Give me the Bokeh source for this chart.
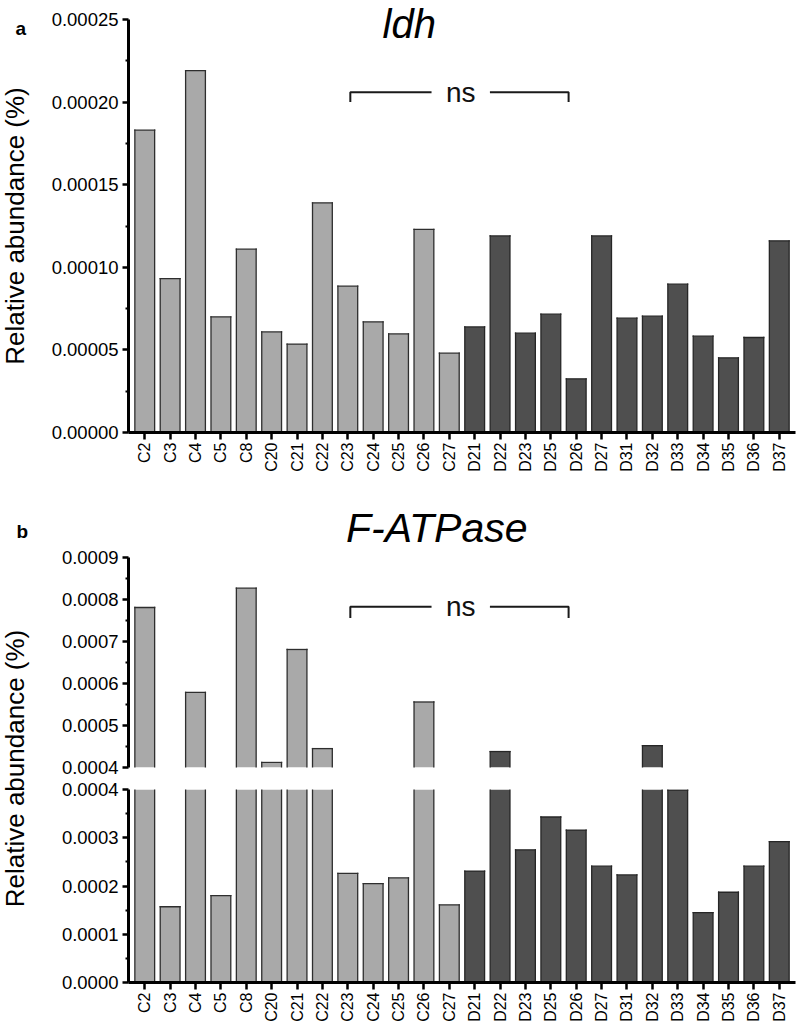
import math
from bokeh.plotting import figure
from bokeh.layouts import row, column
from bokeh.models import (FactorRange, Range1d, FixedTicker, NumeralTickFormatter,
                          ColumnDataSource, Label, CDSView, BooleanFilter)
from bokeh.transform import factor_cmap, dodge
from bokeh.embed import file_html
from bokeh.resources import INLINE

# ---------------- data ----------------
samples = ["C2", "C3", "C4", "C5", "C8", "C20", "C21", "C22", "C23", "C24", "C25", "C26", "C27",
           "D21", "D22", "D23", "D25", "D26", "D27", "D31", "D32", "D33", "D34", "D35", "D36", "D37"]
groups = ["C"] * 13 + ["D"] * 13

ldh = [0.000183, 0.0000932, 0.000219, 0.0000700, 0.000111, 0.0000609, 0.0000535,
       0.000139, 0.0000886, 0.0000670, 0.0000597, 0.000123, 0.0000480,
       0.0000639, 0.000119, 0.0000601, 0.0000716, 0.0000325, 0.000119, 0.0000692,
       0.0000704, 0.0000898, 0.0000583, 0.0000452, 0.0000575, 0.000116]

fatpase = [0.000781, 0.000157, 0.000579, 0.000180, 0.000827, 0.000412, 0.000681,
           0.000445, 0.000226, 0.000205, 0.000217, 0.000556, 0.000161,
           0.000231, 0.000438, 0.000275, 0.000343, 0.000316, 0.000241, 0.000223,
           0.000452, 0.000399, 0.000145, 0.000187, 0.000241, 0.000292]

ldh_ticks = [0.0, 0.00005, 0.00010, 0.00015, 0.00020, 0.00025]
fat_upper_ticks = [0.0004, 0.0005, 0.0006, 0.0007, 0.0008, 0.0009]
fat_lower_ticks = [0.0, 0.0001, 0.0002, 0.0003, 0.0004]

y_label = "Relative abundance (%)"
ldh_title = "ldh"
fat_title = "F-ATPase"
ns_text = "ns"

# ---------------- style ----------------
FONT = "Liberation Sans"
LIGHT, DARK = "#a9a9a9", "#4f4f4f"
LIGHT_LINE, DARK_LINE = "#2e2e2e", "#262626"
BAR_W = 0.78
OUT_W = 1.3

src = ColumnDataSource(dict(sample=samples, group=groups, ldh=ldh, fat=fatpase))
fill_map = factor_cmap("group", palette=[LIGHT, DARK], factors=["C", "D"])
line_map = factor_cmap("group", palette=[LIGHT_LINE, DARK_LINE], factors=["C", "D"])

x_range = FactorRange(*samples, range_padding=0.14, range_padding_units="absolute")


def midpoints(t):
    return [(a + b) / 2 for a, b in zip(t[:-1], t[1:])]


def make_fig(height, lo, hi, px_per_unit, ticks, fmt, border_top, border_bottom, show_x):
    frame_h = height - border_top - border_bottom
    # the frame may extend above the axis top (room for titles); the axis is bounded
    y_end = lo + frame_h / px_per_unit
    p = figure(width=766, height=height, x_range=x_range, y_range=Range1d(lo, y_end),
               output_backend="svg", toolbar_location=None,
               min_border_left=98, min_border_right=1,
               min_border_top=border_top, min_border_bottom=border_bottom,
               x_axis_location="below" if show_x else None)
    p.outline_line_color = None
    p.xgrid.visible = False
    p.ygrid.visible = False
    ya = p.yaxis[0]
    ya.bounds = (lo, hi)
    ya.ticker = FixedTicker(ticks=ticks, minor_ticks=midpoints(ticks))
    ya.formatter = NumeralTickFormatter(format=fmt)
    ya.axis_line_width = 3
    ya.axis_line_color = "black"
    ya.major_tick_line_width = 2.5
    ya.major_tick_out = 6
    ya.major_tick_in = 0
    ya.minor_tick_line_width = 2
    ya.minor_tick_out = 3
    ya.minor_tick_in = 0
    ya.major_label_text_font = FONT
    ya.major_label_text_font_size = "18.5px"
    ya.major_label_text_color = "black"
    ya.major_label_standoff = 4
    if show_x:
        xa = p.xaxis[0]
        xa.axis_line_width = 3
        xa.axis_line_color = "black"
        xa.major_tick_line_width = 2.5
        xa.major_tick_out = 7
        xa.major_tick_in = 0
        xa.major_label_orientation = math.pi / 2
        xa.major_label_text_font = FONT
        xa.major_label_text_font_size = "16px"
        xa.major_label_text_color = "black"
        xa.major_label_standoff = 3
    return p


def bars(p, col, lo, hi):
    vals = src.data[col]
    shown = CDSView(filter=BooleanFilter([v > lo for v in vals]))
    top_view = CDSView(filter=BooleanFilter([lo < v <= hi for v in vals]))
    # fills (no outline, so nothing shows at the cut edges of the broken axis)
    p.vbar(x="sample", top=col, bottom=0, width=BAR_W, source=src, view=shown,
           fill_color=fill_map, line_color=None)
    for off in (-BAR_W / 2, BAR_W / 2):
        xo = dodge("sample", off, range=x_range)
        p.segment(x0=xo, y0=0, x1=xo, y1=col, source=src, view=shown,
                  line_color=line_map, line_width=OUT_W, line_cap="square")
    p.segment(x0=dodge("sample", -BAR_W / 2, range=x_range), y0=col,
              x1=dodge("sample", BAR_W / 2, range=x_range), y1=col,
              source=src, view=top_view, line_color=line_map, line_width=OUT_W,
              line_cap="square")


def bracket(p, y_line, y_end):
    left, gap_l, gap_r, right, mid = 8.6, 11.8, 14.1, 17.2, 12.95
    p.multi_line(xs=[[left, left, gap_l], [gap_r, right, right]],
                 ys=[[y_end, y_line, y_line], [y_line, y_line, y_end]],
                 line_color="#1a1a1a", line_width=2)
    p.add_layout(Label(x=mid, y=y_line, text=ns_text, text_align="center",
                       text_baseline="middle", text_font=FONT,
                       text_font_size="28px", text_color="#111111"))


# panel a : axis 0..0.00025 spans y 19..432 (413 px)
pa = make_fig(478, 0.0, 0.00025, 413 / 0.00025, ldh_ticks, "0.00000", 0, 46, True)
bars(pa, "ldh", 0.0, 0.00025)
bracket(pa, 0.000206, 0.0002)
pa.add_layout(Label(x=9.87, y=0.0002474, text=ldh_title, text_font=FONT,
                    text_font_size="40px", text_font_style="italic", text_color="black",
                    text_align="left", text_baseline="middle"))

# panel b, broken axis: upper part (0.0004..0.0009 over y 557..767) and lower part (789..982)
pbu = make_fig(300, 0.0004, 0.0009, 210 / 0.0005, fat_upper_ticks, "0.0000", 22, 11, False)
bars(pbu, "fat", 0.0004, 0.0009)
bracket(pbu, 0.000783, 0.000756)
pbu.add_layout(Label(x=8.43, y=0.00097, text=fat_title, text_font=FONT,
                     text_font_size="41px", text_font_style="italic", text_color="black",
                     text_align="left", text_baseline="middle"))

pbl = make_fig(249, 0.0, 0.0004, 193 / 0.0004, fat_lower_ticks, "0.0000", 11, 45, True)
bars(pbl, "fat", 0.0, 0.0004)

# left strip: panel letters and the y-axis titles (panel b's spans both parts)
H = 478 + 300 + 249
strip = figure(width=30, height=H, x_range=Range1d(0, 30), y_range=Range1d(H, 0),
               output_backend="svg", toolbar_location=None, min_border=0,
               x_axis_location=None, y_axis_location=None)
strip.outline_line_color = None
strip.xgrid.visible = False
strip.ygrid.visible = False
strip.add_layout(Label(x=15, y=27.5, text="a", text_font=FONT, text_font_size="19px",
                       text_font_style="bold", text_color="black",
                       text_align="left", text_baseline="middle"))
strip.add_layout(Label(x=16, y=530.5, text="b", text_font=FONT, text_font_size="19px",
                       text_font_style="bold", text_color="black",
                       text_align="left", text_baseline="middle"))
strip.add_layout(Label(x=14.5, y=225.5, text=y_label, angle=math.pi / 2, text_font=FONT,
                       text_font_size="26px", text_color="black",
                       text_align="center", text_baseline="middle"))
strip.add_layout(Label(x=14.5, y=768, text=y_label, angle=math.pi / 2, text_font=FONT,
                       text_font_size="26px", text_color="black",
                       text_align="center", text_baseline="middle"))

layout = row(strip, column(pa, pbu, pbl, spacing=0), spacing=0)

open("out.html", "w").write(file_html(layout, INLINE))
